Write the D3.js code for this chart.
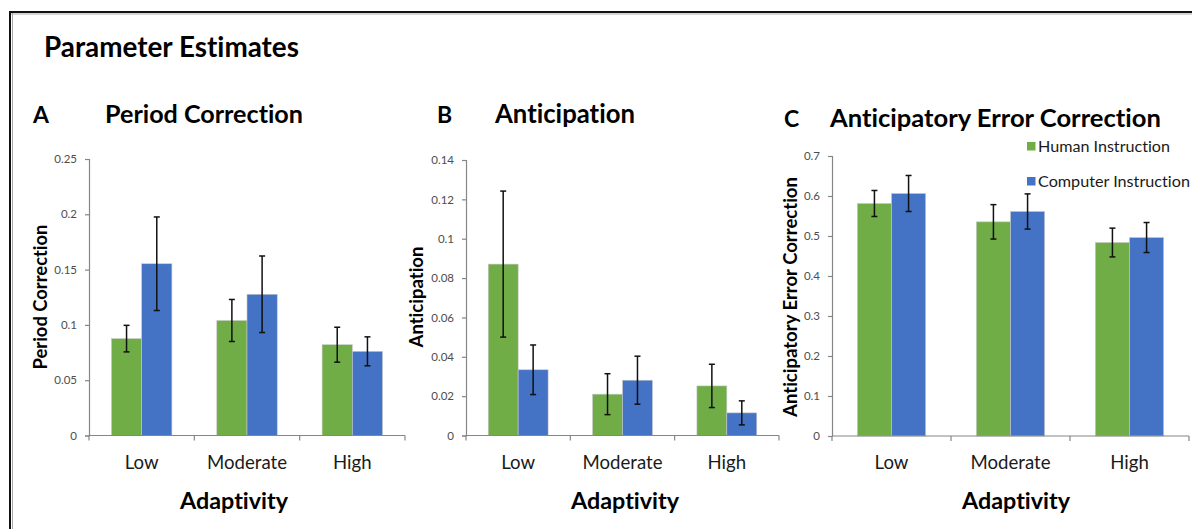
<!DOCTYPE html>
<html>
<head>
<meta charset="utf-8">
<title>Parameter Estimates</title>
<script src="https://cdn.jsdelivr.net/npm/d3@7/dist/d3.min.js"></script>
<style>
  html, body { margin: 0; padding: 0; background: #fff; }
  svg { display: block; font-family: Lato, "Open Sans", "DejaVu Sans", sans-serif;
        font-variant-ligatures: none; font-feature-settings: "liga" 0, "dlig" 0; }
</style>
</head>
<body>
<svg id="chart" width="1192" height="529"></svg>
<script>
// ---------- data ----------
var categories = ["Low", "Moderate", "High"];
var seriesNames = ["Human Instruction", "Computer Instruction"];
var seriesColors = ["#70ad47", "#4472c4"];

// A: period correction
var periodHuman = [0.0876, 0.1040, 0.0821];
var periodHumanErr = [0.0120, 0.0190, 0.0158];
var periodComputer = [0.1553, 0.1277, 0.0761];
var periodComputerErr = [0.0423, 0.0346, 0.0131];
var periodTicks = [0, 0.05, 0.1, 0.15, 0.2, 0.25];

// B: anticipation
var anticipHuman = [0.0871, 0.0210, 0.0252];
var anticipHumanErr = [0.0371, 0.0104, 0.0110];
var anticipComputer = [0.0334, 0.0281, 0.0115];
var anticipComputerErr = [0.0126, 0.0122, 0.0061];
var anticipTicks = [0, 0.02, 0.04, 0.06, 0.08, 0.1, 0.12, 0.14];

// C: anticipatory error correction
var aecHuman = [0.5813, 0.5354, 0.4837];
var aecHumanErr = [0.0325, 0.0430, 0.0360];
var aecComputer = [0.6063, 0.5613, 0.4962];
var aecComputerErr = [0.0450, 0.0440, 0.0375];
var aecTicks = [0, 0.1, 0.2, 0.3, 0.4, 0.5, 0.6, 0.7];

var svg = d3.select("#chart");

// make a text element span a given width (reference uses Calibri)
function fit(sel, w) {
    var len = sel.node().getComputedTextLength();
    var fs = parseFloat(sel.attr("font-size"));
    sel.attr("font-size", (fs * w / len).toFixed(2));
    return sel;
}

// frame lines (top and left)
svg.append("line").attr("x1", 10).attr("y1", 12).attr("x2", 1192).attr("y2", 12)
    .attr("stroke", "#111").attr("stroke-width", 2);
svg.append("line").attr("x1", 10).attr("y1", 14).attr("x2", 1192).attr("y2", 14)
    .attr("stroke", "#aaa").attr("stroke-width", 1);
svg.append("line").attr("x1", 10).attr("y1", 11).attr("x2", 10).attr("y2", 529)
    .attr("stroke", "#111").attr("stroke-width", 2);
svg.append("line").attr("x1", 12.5).attr("y1", 13).attr("x2", 12.5).attr("y2", 529)
    .attr("stroke", "#aaa").attr("stroke-width", 1);

fit(svg.append("text").attr("x", 44).attr("y", 56.5).attr("font-size", 24)
    .attr("font-weight", "bold").attr("fill", "#000").text("Parameter Estimates"), 255);

var panels = [
    { letter: "A", lx: 33, title: "Period Correction", tx: 105, tw: 198, ty: 122.5,
      ylabel: "Period Correction", ylw: 145, ylx: 47,
      values: [periodHuman, periodComputer], errs: [periodHumanErr, periodComputerErr],
      ticks: periodTicks, x0: 89, x1: 405, yBottom: 435.5, yTop: 159, adaptX: 234 },
    { letter: "B", lx: 437, title: "Anticipation", tx: 495, tw: 140, ty: 122.5,
      ylabel: "Anticipation", ylw: 101, ylx: 423,
      values: [anticipHuman, anticipComputer], errs: [anticipHumanErr, anticipComputerErr],
      ticks: anticipTicks, x0: 466, x1: 779, yBottom: 435.5, yTop: 160, adaptX: 625 },
    { letter: "C", lx: 784, title: "Anticipatory Error Correction", tx: 830, tw: 331, ty: 126.5,
      ylabel: "Anticipatory Error Correction", ylw: 240, ylx: 797,
      values: [aecHuman, aecComputer], errs: [aecHumanErr, aecComputerErr],
      ticks: aecTicks, x0: 832, x1: 1189, yBottom: 436, yTop: 156, adaptX: 1016 }
];

var fmt = d3.format("~g");

panels.forEach(function(p) {
    var g = svg.append("g");

    g.append("text").attr("x", p.lx).attr("y", p.ty).attr("font-size", 23)
        .attr("font-weight", "bold").text(p.letter);
    fit(g.append("text").attr("x", p.tx).attr("y", p.ty).attr("font-size", 22)
        .attr("font-weight", "bold").text(p.title), p.tw);

    var x = d3.scaleBand().domain(categories).range([p.x0, p.x1]).padding(0);
    var bw = x.bandwidth();
    var xs = d3.scaleBand().domain(seriesNames).range([bw * 0.213, bw * 0.787]).padding(0);
    var y = d3.scaleLinear().domain([0, p.ticks[p.ticks.length - 1]]).range([p.yBottom, p.yTop]);

    // bars
    seriesNames.forEach(function(s, si) {
        g.selectAll(null).data(categories).enter().append("rect")
            .attr("x", function(c) { return x(c) + xs(s); })
            .attr("y", function(c, i) { return y(p.values[si][i]); })
            .attr("width", xs.bandwidth())
            .attr("height", function(c, i) { return y(0) - y(p.values[si][i]); })
            .attr("fill", seriesColors[si])
            .attr("stroke", "#c9c9c9").attr("stroke-width", 0.6);
    });

    // y axis
    var ya = g.append("g").attr("transform", "translate(" + p.x0 + ",0)")
        .call(d3.axisLeft(y).tickValues(p.ticks).tickFormat(fmt).tickSize(4).tickPadding(8));
    ya.select(".domain").attr("stroke", "#868686").attr("stroke-width", 1.2);
    ya.selectAll(".tick line").attr("stroke", "#868686").attr("stroke-width", 1.2);
    ya.selectAll(".tick text").attr("fill", "#4d4d4d").attr("font-size", 11.5)
        .attr("font-family", "Lato, sans-serif");

    // x axis with boundary ticks
    g.append("line").attr("x1", p.x0).attr("x2", p.x1).attr("y1", y(0)).attr("y2", y(0))
        .attr("stroke", "#868686").attr("stroke-width", 1.2);
    var bounds = categories.map(function(c) { return x(c); }).concat([p.x1]);
    g.selectAll(null).data(bounds).enter().append("line")
        .attr("x1", function(d) { return d; }).attr("x2", function(d) { return d; })
        .attr("y1", y(0)).attr("y2", y(0) + 5)
        .attr("stroke", "#868686").attr("stroke-width", 1.2);

    // category labels, sized so "Moderate" spans ~80px
    var probe = g.append("text").attr("font-size", 16).text("Moderate");
    var catSize = 16 * 80 / probe.node().getComputedTextLength();
    probe.remove();
    g.selectAll(null).data(categories).enter().append("text")
        .attr("x", function(c) { return x(c) + bw / 2; })
        .attr("y", y(0) + 33)
        .attr("text-anchor", "middle").attr("font-size", catSize.toFixed(2)).attr("fill", "#1a1a1a")
        .text(function(c) { return c; });

    // error bars
    seriesNames.forEach(function(s, si) {
        categories.forEach(function(c, i) {
            var cx = x(c) + xs(s) + xs.bandwidth() / 2;
            var v = p.values[si][i], e = p.errs[si][i];
            var eg = g.append("g").attr("stroke", "#111").attr("stroke-width", 1.5);
            eg.append("line").attr("x1", cx).attr("x2", cx).attr("y1", y(v + e)).attr("y2", y(v - e));
            eg.append("line").attr("x1", cx - 3).attr("x2", cx + 3).attr("y1", y(v + e)).attr("y2", y(v + e));
            eg.append("line").attr("x1", cx - 3).attr("x2", cx + 3).attr("y1", y(v - e)).attr("y2", y(v - e));
        });
    });

    // axis titles
    var midY = 297;
    fit(g.append("text").attr("transform", "translate(" + p.ylx + "," + midY + ") rotate(-90)")
        .attr("text-anchor", "middle").attr("font-size", 16).attr("font-weight", "bold")
        .text(p.ylabel), p.ylw);
    fit(g.append("text").attr("x", p.adaptX).attr("y", 509).attr("text-anchor", "middle")
        .attr("font-size", 20).attr("font-weight", "bold").text("Adaptivity"), 108);
});

// legend
var legY = [142, 177];
seriesNames.forEach(function(s, i) {
    svg.append("rect").attr("x", 1027).attr("y", legY[i]).attr("width", 8.5).attr("height", 8.5)
        .attr("fill", seriesColors[i]);
    fit(svg.append("text").attr("x", 1038).attr("y", legY[i] + 9.5).attr("font-size", 14)
        .attr("fill", "#1a1a1a").text(s), i === 0 ? 132 : 152);
});
</script>
</body>
</html>
